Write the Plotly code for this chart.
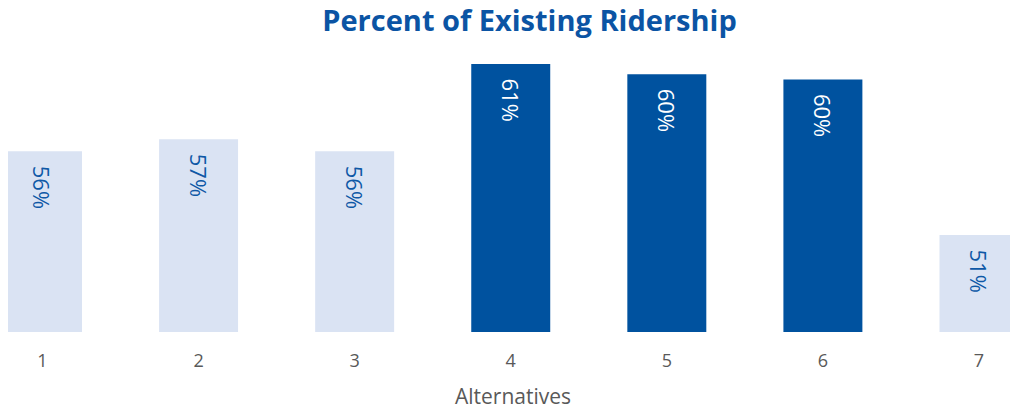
import plotly.graph_objects as go

alternatives = ["1", "2", "3", "4", "5", "6", "7"]
share_existing = [0.559, 0.566, 0.559, 0.610, 0.604, 0.601, 0.510]
highlighted = [False, False, False, True, True, True, False]

DARK = "#00529F"
LIGHT = "#DAE3F3"

bar_colors = [DARK if h else LIGHT for h in highlighted]
text_colors = ["#FFFFFF" if h else "#0E58A6" for h in highlighted]

# page body has an 8px margin, so the figure is sized to the visible area
W, H = 1010, 402

fig = go.Figure(go.Bar(
    x=alternatives,
    y=share_existing,
    width=0.506,
    marker=dict(color=bar_colors, line=dict(width=0)),
    texttemplate="\u00a0\u00a0%{y:.0%}",
    textposition="inside",
    insidetextanchor="end",
    textangle=90,
    textfont=dict(family="Open Sans", size=22, color=text_colors),
    cliponaxis=False,
))

fig.update_layout(
    width=W,
    height=H,
    margin=dict(l=0, r=0, t=52, b=78, autoexpand=False),
    paper_bgcolor="white",
    plot_bgcolor="white",
    showlegend=False,
    title=dict(
        text="<b>Percent of Existing Ridership</b>",
        x=521.5 / W, xanchor="center", y=1 - 13 / H, yanchor="middle",
        font=dict(family="Open Sans", size=29, color="#0B54A4"),
    ),
    xaxis=dict(
        range=[-0.221, 6.25],
        showgrid=False, zeroline=False, showline=False,
        ticks="outside", ticklen=12, tickcolor="rgba(0,0,0,0)",
        tickfont=dict(family="Open Sans", size=18, color="#595959"),
        title=dict(text="Alternatives", standoff=24,
                   font=dict(family="Open Sans", size=21, color="#595959")),
        automargin=False,
    ),
    yaxis=dict(
        range=[0.4533, 0.6124],
        visible=False,
    ),
)

fig.write_html("out.html")
